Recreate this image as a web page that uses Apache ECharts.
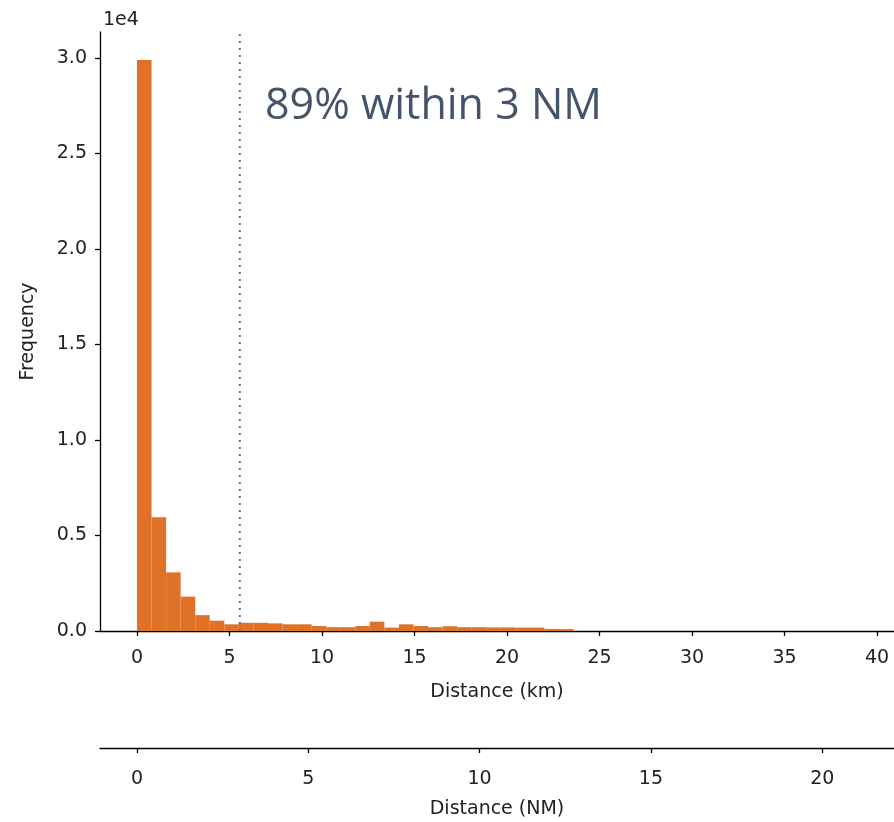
<!DOCTYPE html>
<html>
<head>
<meta charset="utf-8">
<script src="https://cdn.jsdelivr.net/npm/echarts@6/dist/echarts.min.js"></script>
<style>
html,body{margin:0;padding:0;background:#fff;}
#chart{width:894px;height:822px;}
</style>
</head>
<body>
<div id="chart"></div>
<script>
// ---- data ----
const binStartKm = 0;
const binEndKm = 23.6;
const counts = [29900, 5950, 3070, 1800, 830, 540, 350, 430, 430, 400,
                350, 350, 260, 200, 200, 260, 490, 180, 350, 260,
                200, 250, 200, 200, 190, 190, 180, 180, 110, 100];
const kmTicks = [0, 5, 10, 15, 20, 25, 30, 35, 40];
const nmTicks = [0, 5, 10, 15, 20];
const yTicks = [0, 5000, 10000, 15000, 20000, 25000, 30000];
const thresholdNM = 3;
const KM_PER_NM = 1.852;
const annotation = '89% within 3 NM';

// ---- layout / ranges ----
const xMinKm = -2.0, xMaxKm = 40.92;
const yMax = 31360;
const barColor = '#e07228';
const font = 'DejaVu Sans';

const nBins = counts.length;
const binW = (binEndKm - binStartKm) / nBins;
const histData = counts.map((c, i) => [binStartKm + i * binW, binStartKm + (i + 1) * binW, c]);
const thrKm = thresholdNM * KM_PER_NM;

const chart = echarts.init(document.getElementById('chart'), null, {renderer: 'canvas'});
const axisLineStyle = {color: '#000', width: 1.3};
const labelStyle = {color: '#222', fontFamily: font, fontSize: 19, lineHeight: 20};

chart.setOption({
  animation: false,
  backgroundColor: '#fff',
  grid: {left: 100, right: 0, top: 32, bottom: 191, containLabel: false, outerBoundsMode: 'none'},
  xAxis: [
    {
      type: 'value', min: xMinKm, max: xMaxKm, position: 'bottom',
      splitLine: {show: false},
      axisLine: {show: true, onZero: false, lineStyle: axisLineStyle},
      axisTick: {show: true, length: 5, lineStyle: axisLineStyle, customValues: kmTicks},
      axisLabel: Object.assign({margin: 17, customValues: kmTicks, formatter: v => String(v)}, labelStyle),
      name: 'Distance (km)', nameLocation: 'middle', nameGap: 52,
      nameTextStyle: {color: '#222', fontFamily: font, fontSize: 19}
    },
    {
      type: 'value', min: xMinKm / KM_PER_NM, max: xMaxKm / KM_PER_NM, position: 'bottom', offset: 117,
      splitLine: {show: false},
      axisLine: {show: true, onZero: false, lineStyle: axisLineStyle},
      axisTick: {show: true, length: 5, lineStyle: axisLineStyle, customValues: nmTicks},
      axisLabel: Object.assign({margin: 21, customValues: nmTicks, formatter: v => String(v)}, labelStyle),
      name: 'Distance (NM)', nameLocation: 'middle', nameGap: 52,
      nameTextStyle: {color: '#222', fontFamily: font, fontSize: 19}
    }
  ],
  yAxis: {
    type: 'value', min: 0, max: yMax,
    splitLine: {show: false},
    axisLine: {show: true, onZero: false, lineStyle: axisLineStyle},
    axisTick: {show: true, length: 5, lineStyle: axisLineStyle, customValues: yTicks},
    axisLabel: Object.assign({margin: 13, customValues: yTicks, formatter: v => (v / 1e4).toFixed(1)}, labelStyle),
    name: 'Frequency', nameLocation: 'middle', nameGap: 62, nameRotate: 90,
    nameTextStyle: {color: '#222', fontFamily: font, fontSize: 19}
  },
  graphic: [
    {type: 'text', left: 103, top: 11, style: {text: '1e4', fill: '#222', font: '19px "DejaVu Sans"'}},
    {type: 'text', left: 265, top: 85, style: {text: annotation, fill: '#44546a', font: '43px "Open Sans"'}}
  ],
  series: [
    {
      type: 'custom', xAxisIndex: 0, yAxisIndex: 0,
      encode: {x: [0, 1], y: 2},
      data: histData,
      renderItem: function (params, api) {
        const p0 = api.coord([api.value(0), api.value(2)]);
        const p1 = api.coord([api.value(1), 0]);
        return {
          type: 'rect',
          shape: {x: p0[0], y: p0[1], width: p1[0] - p0[0], height: p1[1] - p0[1]},
          style: {fill: barColor}
        };
      },
      z: 2
    },
    {
      type: 'line', xAxisIndex: 0, yAxisIndex: 0,
      data: [[thrKm, 0], [thrKm, yMax]],
      symbol: 'none',
      lineStyle: {color: '#4f7599', width: 2, type: [2, 5]},
      z: 3
    }
  ]
});
</script>
</body>
</html>
